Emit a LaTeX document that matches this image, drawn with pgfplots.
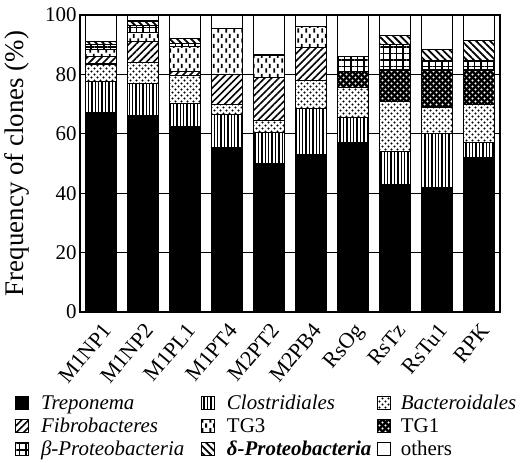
\documentclass[border=0pt]{standalone}
\usepackage{fontspec}
\setmainfont{Liberation Serif}
\usepackage{pgfplots}
\pgfplotsset{compat=1.18}
\usepackage{pgfplotstable}
\usetikzlibrary{patterns,patterns.meta}

% staggered dots (Bacteroidales, TG1)
\pgfdeclarepatternformonly{bdots}{\pgfqpoint{-1bp}{-1bp}}{\pgfqpoint{7bp}{7bp}}{\pgfqpoint{6bp}{6bp}}{%
  \pgfpathcircle{\pgfqpoint{1.5bp}{1.5bp}}{1.1bp}%
  \pgfpathcircle{\pgfqpoint{4.5bp}{4.5bp}}{1.1bp}%
  \pgfusepath{fill}}
% short vertical dashes (TG3)
\pgfdeclarepatternformonly{tgdash}{\pgfpointorigin}{\pgfqpoint{8bp}{10bp}}{\pgfqpoint{8bp}{10bp}}{%
  \pgfpathrectangle{\pgfqpoint{1.5bp}{0.5bp}}{\pgfqpoint{2bp}{4.5bp}}%
  \pgfpathrectangle{\pgfqpoint{5.5bp}{5.5bp}}{\pgfqpoint{2bp}{4.5bp}}%
  \pgfusepath{fill}}

\pgfplotstableread{
x trep clos bact fibro tgthree tgone beta delta others
0 67   10.5 6    2.5  2.5  0    1.5 1   9
1 66   11   7    7    3    0    2.5 1.5 2
2 62.3 8    9.2  1.5  8.5  0    1   1.5 8
3 55.5 11   3.5  10   15.5 0    0   0   4.5
4 50   10.5 4    14.5 7.5  0    0   0   13.5
5 53   15.5 9.5  11   7    0    0   0   4
6 57   8.5  10   0    0    5.5  5   0   14
7 43   11   17   0    0    10.5 8.5 3   7
8 42   18   9    0    0    12.5 3   4   11.5
9 52   5    13   0    0    11.5 3   7   8.5
}\datatable

\newcommand{\ytickfont}{\fontsize{21}{24}\selectfont}
\newcommand{\xtickfont}{\fontsize{22}{24}\selectfont}
\newcommand{\labfont}{\fontsize{27}{30}\selectfont}
\newcommand{\legfont}{\fontsize{21}{23}\selectfont}
\newcommand{\colA}[1]{\makebox[160bp][l]{#1}}
\newcommand{\colB}[1]{\makebox[150bp][l]{#1}}

\begin{document}
\begin{tikzpicture}
\begin{axis}[
  scale only axis, width=420bp, height=297bp,
  ybar stacked, bar width=0.74,
  xmin=-0.5, xmax=9.5, ymin=0, ymax=100,
  xtick=data,
  xticklabels={M1NP1,M1NP2,M1PL1,M1PT4,M2PT2,M2PB4,RsOg,RsTz,RsTu1,RPK},
  ytick={0,20,...,100},
  ymajorgrids, grid style={black, line width=0.8bp},
  xtick style={draw=none},
  ytick style={black, line width=0.8bp}, major tick length=6bp,
  axis line style={line width=1.3bp},
  yticklabel style={font=\ytickfont},
  xticklabel style={font=\xtickfont, rotate=50, anchor=north east,
    inner sep=1bp, xshift=-6bp, yshift=-6bp},
  /pgf/number format/assume math mode=true,
  ylabel={Frequency of clones (\%)},
  ylabel style={font=\labfont, at={(axis description cs:-0.150,0.5)}, anchor=center},
  every axis plot/.append style={draw=black, line width=1.2bp},
  legend columns=3,
  legend cell align=left,
  legend image code/.code={\draw[#1, line width=0.9bp] (0bp,-5.5bp) rectangle (13bp,7.5bp);},
  legend style={at={(rel axis cs:-0.1548,-0.2694)}, anchor=north west,
    draw=none, fill=none, font=\legfont, row sep=0bp, inner sep=0bp,
    nodes={inner sep=0bp, text height=17bp, text depth=6bp},
    /tikz/column 1/.style={column sep=12bp},
    /tikz/column 3/.style={column sep=12bp},
    /tikz/column 5/.style={column sep=10bp}},
]
\addplot[fill=black] table[x=x,y=trep]{\datatable};
\addlegendentry{\colA{\textit{Treponema}}}
\addplot[fill=white, postaction={pattern={Lines[angle=90,distance=3.4bp,line width=1.4bp]}}] table[x=x,y=clos]{\datatable};
\addlegendentry{\colB{\textit{Clostridiales}}}
\addplot[fill=white, postaction={pattern=bdots}] table[x=x,y=bact]{\datatable};
\addlegendentry{\textit{Bacteroidales}}
\addplot[fill=white, postaction={pattern={Lines[angle=45,distance=5bp,line width=1.6bp]}}] table[x=x,y=fibro]{\datatable};
\addlegendentry{\colA{\textit{Fibrobacteres}}}
\addplot[fill=white, postaction={pattern=tgdash}] table[x=x,y=tgthree]{\datatable};
\addlegendentry{\colB{TG3}}
\addplot[fill=black, postaction={pattern=bdots, pattern color=white}] table[x=x,y=tgone]{\datatable};
\addlegendentry{TG1}
\addplot[fill=white, postaction={pattern={Hatch[angle=0,distance=6.5bp,line width=1.8bp]}}] table[x=x,y=beta]{\datatable};
\addlegendentry{\colA{\textit{β-Proteobacteria}}}
\addplot[fill=white, postaction={pattern={Lines[angle=-45,distance=5bp,line width=1.8bp]}}] table[x=x,y=delta]{\datatable};
\addlegendentry{\colB{\textbf{\textit{δ-Proteobacteria}}}}
\addplot[fill=white] table[x=x,y=others]{\datatable};
\addlegendentry{others}
\end{axis}
\pgfresetboundingbox
\path (-80bp,-151bp) rectangle (444bp,312bp);
\end{tikzpicture}
\end{document}
